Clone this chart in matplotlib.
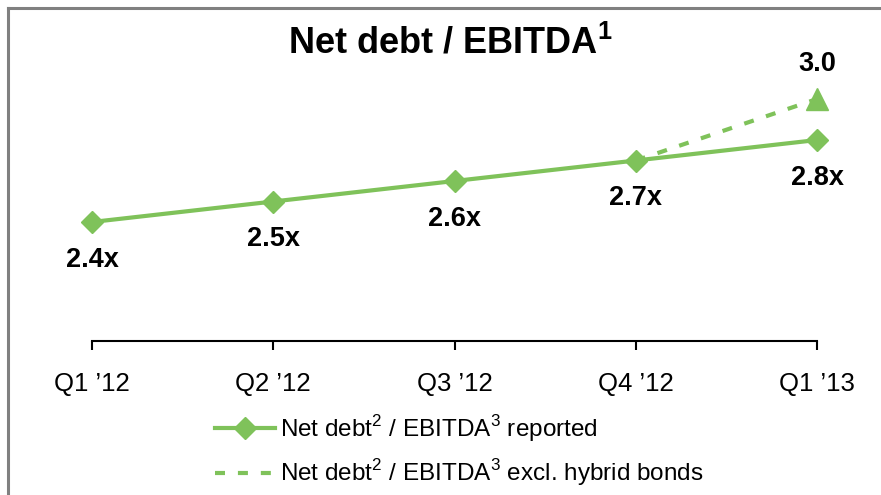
import matplotlib.pyplot as plt
from matplotlib.lines import Line2D
import numpy as np

plt.rcParams['font.family'] = ['Liberation Sans', 'DejaVu Sans']
plt.rcParams['mathtext.fontset'] = 'custom'
plt.rcParams['mathtext.rm'] = 'Liberation Sans'
plt.rcParams['mathtext.bf'] = 'Liberation Sans:bold'

# data
quarters = ["Q1 \u201912", "Q2 \u201912", "Q3 \u201912", "Q4 \u201912", "Q1 \u201913"]
reported = [2.4, 2.5, 2.6, 2.7, 2.8]
excl_hybrid = [2.7, 3.0]          # Q4 '12 -> Q1 '13
excl_idx = [3, 4]
reported_labels = ["2.4x", "2.5x", "2.6x", "2.7x", "2.8x"]
excl_label = "3.0"

green = '#7fc25a'
W, H = 881, 495

fig = plt.figure(figsize=(W / 100, H / 100), dpi=100)
ax = fig.add_axes([92 / W, (H - 341) / H, (817 - 92) / W, (341 - 80) / H])

x = np.arange(len(quarters))
ax.plot(excl_idx, excl_hybrid, color=green, lw=3, dashes=(2.4, 3.1),
        clip_on=False, zorder=2)
ax.plot(excl_idx[-1:], excl_hybrid[-1:], marker='^', ms=16, color=green,
        ls='none', clip_on=False, zorder=3)
ax.plot(x, reported, color=green, lw=3, marker='D', ms=11, clip_on=False, zorder=4)

for xi, v, lab in zip(x, reported, reported_labels):
    ax.annotate(lab, (xi, v), xytext=(0, -27), textcoords='offset points',
                ha='center', va='center', fontsize=19.5, fontweight='bold')
ax.annotate(excl_label, (excl_idx[-1], excl_hybrid[-1]), xytext=(0, 25),
            textcoords='offset points', ha='center', va='center',
            fontsize=19.5, fontweight='bold')

ax.set_xlim(0, 4)
ax.set_ylim(1.8195, 3.0927)
ax.set_yticks([])
ax.set_xticks(x)
ax.set_xticklabels(quarters, fontsize=18.5)
for s in ['left', 'right', 'top']:
    ax.spines[s].set_visible(False)
ax.spines['bottom'].set_linewidth(1.5)
ax.tick_params(axis='x', direction='out', length=6.5, width=1.5, pad=16)
ax.patch.set_visible(False)

# title
fig.text(450 / W, 1 - 43 / H, r"Net debt / EBITDA$^{\mathbf{1}}$", ha='center',
         va='center', fontsize=26, fontweight='bold')

# legend
handles = [
    Line2D([], [], color=green, lw=3, marker='D', ms=11),
    Line2D([], [], color=green, lw=3, dashes=(2.4, 3.1)),
]
labels = [r"Net debt$^2$ / EBITDA$^3$ reported",
          r"Net debt$^2$ / EBITDA$^3$ excl. hybrid bonds"]
fig.legend(handles, labels, loc='upper left', bbox_to_anchor=(215 / W, 1 - 413 / H),
           frameon=False, fontsize=17.5, handlelength=2.46, handletextpad=0.2,
           labelspacing=0.55, borderpad=0, borderaxespad=0)

# grey frame (left and top)
fig.add_artist(Line2D([8 / W, 8 / W], [0, 1 - 8 / H], transform=fig.transFigure,
                      color='#808080', lw=2.2, solid_capstyle='projecting'))
fig.add_artist(Line2D([8 / W, 1], [1 - 8 / H, 1 - 8 / H], transform=fig.transFigure,
                      color='#808080', lw=2.2, solid_capstyle='projecting'))

fig.savefig('out.png', dpi=100)
